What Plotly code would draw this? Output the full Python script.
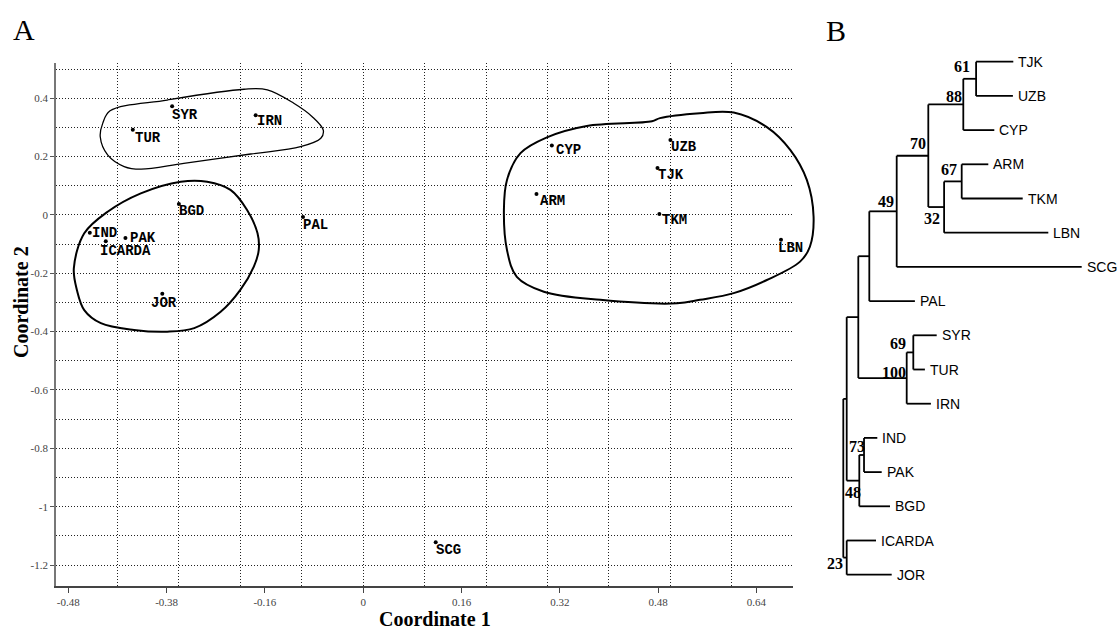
import plotly.graph_objects as go

W, H = 1119, 630

# ---------------- Panel A : principal coordinates ----------------
pop_names = ["SYR", "TUR", "IRN", "BGD", "PAL", "IND", "PAK", "ICARDA", "JOR",
             "CYP", "UZB", "TJK", "ARM", "TKM", "LBN", "SCG"]
coord1 = [-0.311, -0.375, -0.175, -0.300, -0.098, -0.445, -0.387, -0.419, -0.327,
          0.307, 0.500, 0.479, 0.282, 0.482, 0.680, 0.118]
coord2 = [0.373, 0.292, 0.342, 0.038, -0.007, -0.061, -0.079, -0.090, -0.270,
          0.238, 0.257, 0.161, 0.072, 0.003, -0.085, -1.122]

x_tick_vals = [-0.48, -0.32, -0.16, 0, 0.16, 0.32, 0.48, 0.64]
x_tick_text = ["-0.48", "-0.38", "-0.16", "0", "0.16", "0.32", "0.48", "0.64"]
y_tick_vals = [0.4, 0.2, 0, -0.2, -0.4, -0.6, -0.8, -1, -1.2]
y_tick_text = ["0.4", "0.2", "0", "-0.2", "-0.4", "-0.6", "-0.8", "-1", "-1.2"]

# group outlines (hand-drawn envelopes)
hull1_x = [-0.412, -0.319, -0.194, -0.156, -0.113, -0.083, -0.065, -0.069, -0.102,
           -0.183, -0.292, -0.362, -0.389, -0.416, -0.428, -0.424, -0.412]
hull1_y = [0.357, 0.394, 0.431, 0.429, 0.383, 0.337, 0.291, 0.263, 0.234,
           0.209, 0.177, 0.157, 0.166, 0.206, 0.268, 0.314, 0.357]
hull2_x = [-0.471, -0.454, -0.416, -0.362, -0.297, -0.254, -0.216, -0.189, -0.172,
           -0.170, -0.178, -0.200, -0.232, -0.275, -0.319, -0.373, -0.427, -0.454,
           -0.466, -0.471]
hull2_y = [-0.183, -0.063, 0.011, 0.074, 0.114, 0.114, 0.086, 0.017, -0.063,
           -0.120, -0.177, -0.257, -0.332, -0.388, -0.400, -0.394, -0.371, -0.326,
           -0.257, -0.183]
hull3_x = [0.299, 0.364, 0.470, 0.483, 0.548, 0.603, 0.657, 0.695, 0.722, 0.733,
           0.727, 0.711, 0.657, 0.603, 0.548, 0.511, 0.386, 0.294, 0.250, 0.234,
           0.229, 0.234, 0.256, 0.299]
hull3_y = [0.266, 0.305, 0.321, 0.332, 0.349, 0.351, 0.301, 0.223, 0.120, -0.006,
           -0.109, -0.160, -0.223, -0.268, -0.291, -0.303, -0.291, -0.263, -0.212,
           -0.120, 0.017, 0.120, 0.212, 0.266]

# ---------------- Panel B : tree ----------------
leaf_order = ["TJK", "UZB", "CYP", "ARM", "TKM", "LBN", "SCG", "PAL", "SYR", "TUR",
              "IRN", "IND", "PAK", "BGD", "ICARDA", "JOR"]
leaf_depth = [0.425, 0.424, 0.3775, 0.3625, 0.4485, 0.5125, 0.596, 0.179, 0.2335,
              0.204, 0.219, 0.085, 0.096, 0.1168, 0.0818, 0.121]
node_names = ["n61", "n88", "n67", "n32", "n70", "n49", "nPAL", "n69", "n100",
              "nUp", "n73", "n48", "nBig", "n23", "root"]
node_children = [["TJK", "UZB"], ["n61", "CYP"], ["ARM", "TKM"], ["n67", "LBN"],
                 ["n88", "n32"], ["n70", "SCG"], ["n49", "PAL"], ["SYR", "TUR"],
                 ["n69", "IRN"], ["nPAL", "n100"], ["IND", "PAK"], ["n73", "BGD"],
                 ["nUp", "n48"], ["ICARDA", "JOR"], ["nBig", "n23"]]
node_depth = [0.332, 0.300, 0.296, 0.252, 0.2125, 0.1335, 0.065, 0.175, 0.1585,
              0.0375, 0.0518, 0.040, 0.0085, 0.0085, 0.0]
node_support = [61, 88, 67, 32, 70, 49, None, 69, 100, None, 73, 48, None, 23, None]

# ---------------- styles ----------------
SERIF = "Liberation Serif, Times New Roman, serif"
SANS = "Liberation Sans, Arial, sans-serif"
MONO = "Liberation Mono, Courier New, monospace"
GRID = dict(color="#222", width=1, dash="1px,2px")

# label offsets in pixels (dx, dy) and anchors for the point labels
label_style = {
    "SYR": (-2, -9, "left"), "TUR": (0, -8, "left"), "IRN": (-1, -6, "left"),
    "BGD": (-2, -7, "left"), "PAL": (-2, -8, "left"), "IND": (0, 0, "left"),
    "PAK": (3, 0, "left"), "ICARDA": (-8, -10, "left"), "JOR": (2, -9, "center"),
    "CYP": (2, -4, "left"), "UZB": (-1, -7, "left"), "TJK": (-2, -7, "left"),
    "ARM": (2, -7, "left"), "TKM": (1, -6, "left"), "LBN": (-5, -8, "left"),
    "SCG": (-2, -8, "left"),
}
support_shift = {
    "n61": (-4, 12), "n88": (1, 7.5), "n70": (0, 12.5), "n67": (-2.5, 11.5),
    "n49": (-0.5, 10), "n32": (-2.5, -11.5), "n69": (-5, 9), "n100": (1.5, 6),
    "n73": (2.5, 9), "n48": (4, -11.5), "n23": (-2, -5.5),
}

# ---------------- geometry of the panels (pixels) ----------------
A_left, A_right, A_top, A_bottom = 56, 793.3, 62.7, 586
A_xr = [-0.5, 0.7]
A_yr = [-1.272, 0.522]
px_per_x = (A_right - A_left) / (A_xr[1] - A_xr[0])
hull_right_px = 835
tree_root_px, tree_scale = 843.3, 400.0
leaf_top_px, leaf_step_px = 61.7, 34.2

fig = go.Figure()

# outlines (drawn on a wider, invisible subplot so they are not clipped at the frame)
for hx, hy, lw in [(hull1_x, hull1_y, 1.3), (hull2_x, hull2_y, 2.0), (hull3_x, hull3_y, 2.0)]:
    fig.add_trace(go.Scatter(x=hx, y=hy, mode="lines", xaxis="x4", yaxis="y4",
                             line=dict(color="black", width=lw, shape="spline", smoothing=1.0),
                             hoverinfo="skip", showlegend=False))

fig.add_trace(go.Scatter(x=coord1, y=coord2, mode="markers", xaxis="x", yaxis="y",
                         marker=dict(color="black", size=4), text=pop_names,
                         showlegend=False))

annotations = []
for n, cx, cy in zip(pop_names, coord1, coord2):
    dx, dy, anc = label_style[n]
    annotations.append(dict(x=cx, y=cy, xref="x", yref="y", text="<b>%s</b>" % n,
                            showarrow=False, xanchor=anc, yanchor="middle",
                            xshift=dx, yshift=dy,
                            font=dict(family=MONO, size=14, color="black")))

# ---- tree computations
ypos = {n: i for i, n in enumerate(leaf_order)}
xpos = {n: d for n, d in zip(leaf_order, leaf_depth)}
for n, ch, d in zip(node_names, node_children, node_depth):
    ypos[n] = sum(ypos[c] for c in ch) / len(ch)
    xpos[n] = d

tx, ty = [], []
for n, ch in zip(node_names, node_children):
    ys = [ypos[c] for c in ch]
    tx += [xpos[n], xpos[n], None]
    ty += [min(ys), max(ys), None]
    for c in ch:
        tx += [xpos[n], xpos[c], None]
        ty += [ypos[c], ypos[c], None]

fig.add_trace(go.Scatter(x=tx, y=ty, mode="lines", xaxis="x2", yaxis="y2",
                         line=dict(color="black", width=1.8), hoverinfo="skip",
                         showlegend=False))

for n in leaf_order:
    annotations.append(dict(x=xpos[n], y=ypos[n], xref="x2", yref="y2", text=n,
                            showarrow=False, xanchor="left", yanchor="middle", xshift=3,
                            font=dict(family=SANS, size=14, color="black")))
for n, s in zip(node_names, node_support):
    if s is None:
        continue
    dx, dy = support_shift[n]
    annotations.append(dict(x=xpos[n], y=ypos[n], xref="x2", yref="y2",
                            text="<b>%d</b>" % s, showarrow=False,
                            xanchor="right", yanchor="middle", xshift=dx, yshift=dy,
                            font=dict(family=SERIF, size=16, color="black")))

# panel letters and titles
annotations += [
    dict(x=24 / W, y=1 - 29 / H, xref="paper", yref="paper", text="A", showarrow=False,
         xanchor="center", yanchor="middle", font=dict(family=SERIF, size=30, color="black")),
    dict(x=836 / W, y=1 - 30 / H, xref="paper", yref="paper", text="B", showarrow=False,
         xanchor="center", yanchor="middle", font=dict(family=SERIF, size=30, color="black")),
    dict(x=435 / W, y=1 - 619 / H, xref="paper", yref="paper", text="<b>Coordinate 1</b>",
         showarrow=False, xanchor="center", yanchor="middle",
         font=dict(family=SERIF, size=20, color="black")),
    dict(x=21 / W, y=1 - 302 / H, xref="paper", yref="paper", text="<b>Coordinate 2</b>",
         showarrow=False, xanchor="center", yanchor="middle", textangle=-90,
         font=dict(family=SERIF, size=20, color="black")),
]

dom_x = [A_left / W, A_right / W]
dom_y = [1 - A_bottom / H, 1 - A_top / H]
tick_font = dict(family=SERIF, size=11, color="#444")
minor_grid = dict(tickmode="linear", tick0=0, dtick=0.1, ticks="", showgrid=True,
                  gridcolor=GRID["color"], gridwidth=GRID["width"], griddash=GRID["dash"])

fig.update_layout(
    width=W, height=H, autosize=False,
    margin=dict(l=0, r=0, t=0, b=0),
    paper_bgcolor="white", plot_bgcolor="rgba(0,0,0,0)",
    showlegend=False,
    annotations=annotations,
    xaxis=dict(domain=dom_x, range=A_xr, anchor="y",
               tickmode="array", tickvals=x_tick_vals, ticktext=x_tick_text,
               ticks="outside", ticklen=5, tickcolor="#444", tickwidth=1.2,
               showline=True, linecolor="#444", linewidth=1.5,
               showgrid=False, zeroline=False, tickfont=tick_font,
               minor=minor_grid),
    yaxis=dict(domain=dom_y, range=A_yr, anchor="x",
               tickmode="array", tickvals=y_tick_vals, ticktext=y_tick_text,
               ticks="outside", ticklen=4, tickcolor="#555", tickwidth=1.2,
               showline=True, linecolor="#777", linewidth=1.8, zeroline=False,
               showgrid=True, gridcolor=GRID["color"], gridwidth=GRID["width"],
               griddash=GRID["dash"], tickfont=tick_font,
               minor=minor_grid),
    xaxis4=dict(domain=[A_left / W, hull_right_px / W],
                range=[A_xr[0], A_xr[0] + (hull_right_px - A_left) / px_per_x],
                anchor="y4", visible=False, showgrid=False, zeroline=False),
    yaxis4=dict(domain=dom_y, range=A_yr, anchor="x4", visible=False,
                showgrid=False, zeroline=False),
    xaxis2=dict(domain=[800 / W, 1.0],
                range=[(800 - tree_root_px) / tree_scale, (W - tree_root_px) / tree_scale],
                anchor="y2", visible=False, showgrid=False, zeroline=False),
    yaxis2=dict(domain=[0, 1],
                range=[(H - leaf_top_px) / leaf_step_px, (0 - leaf_top_px) / leaf_step_px],
                anchor="x2", visible=False, showgrid=False, zeroline=False),
)

fig.write_html("out.html", config={"displayModeBar": False},
               post_script="document.body.style.margin='0';")
